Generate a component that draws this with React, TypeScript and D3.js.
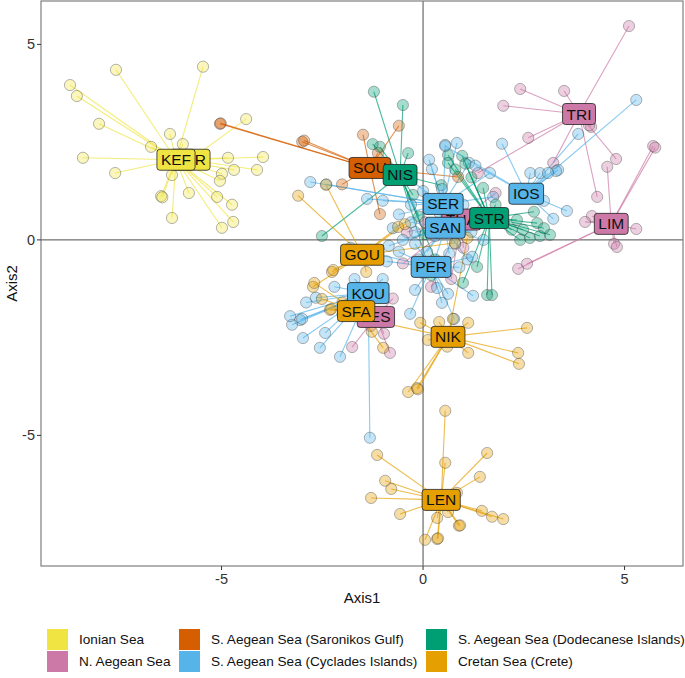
import React from "react";
import * as d3 from "d3";

// legend / region info
const regions = [
  "Ionian Sea",
  "N. Aegean Sea",
  "S. Aegean Sea (Saronikos Gulf)",
  "S. Aegean Sea (Cyclades Islands)",
  "S. Aegean Sea (Dodecanese Islands)",
  "Cretan Sea (Crete)",
];
const regionColors = ["#F0E442", "#CC79A7", "#D55E00", "#56B4E9", "#009E73", "#E69F00"];

// population centroids (label positions), in drawing order
const popNames = ["KER", "KEF", "SOU", "NIS", "TRI", "LIM", "THA", "SER", "SAN", "STR", "IOS", "GOU", "PER", "LES", "KOU", "SFA", "NIK", "LEN"];
const popRegion = [0, 0, 2, 4, 1, 1, 1, 3, 3, 4, 3, 5, 3, 1, 3, 5, 5, 5];
const popAxis1 = [-5.78, -6.13, -1.32, -0.57, 3.87, 4.67, 0.95, 0.5, 0.55, 1.64, 2.56, -1.51, 0.2, -1.17, -1.36, -1.66, 0.62, 0.45];
const popAxis2 = [2.05, 2.05, 1.84, 1.66, 3.22, 0.41, 0.52, 0.92, 0.31, 0.56, 1.18, -0.38, -0.69, -1.97, -1.36, -1.82, -2.48, -6.65];

// individual scores [Axis1, Axis2]
const KER = [[-4.39, 3.09], [-3.97, 2.12], [-4.12, 1.79]];
const KEF = [
  [-8.76, 3.96], [-8.59, 3.68], [-7.62, 4.35], [-5.46, 4.43], [-8.04, 2.97], [-6.28, 2.71],
  [-5.96, 2.45], [-6.75, 2.38], [-8.44, 2.1], [-7.64, 1.71], [-6.23, 1.66], [-4.84, 2.1],
  [-4.69, 1.79], [-4.99, 1.69], [-5.04, 1.51], [-5.81, 1.2], [-6.5, 1.12], [-6.47, 1.09],
  [-5.11, 1.1], [-4.74, 0.9], [-6.23, 0.56], [-4.99, 0.31], [-4.71, 0.46],
];
const SOU = [
  [-5.04, 2.97], [-5.02, 2.98], [-3.0, 2.51], [-2.95, 2.54], [-1.49, 2.69], [-0.6, 2.92],
  [-1.07, 0.66], [-2.01, 1.42], [0.87, 1.61], [-1.12, 2.22], [-1.0, 1.9],
];
const NIS = [
  [-1.22, 3.79], [-0.5, 3.45], [-1.07, 2.38], [-0.37, 2.22], [-2.51, 0.1], [-0.25, 1.15],
  [0.05, 0.15], [0.3, -0.5], [-0.1, 0.6], [0.45, 1.4], [-1.25, 2.45], [0.2, -0.9],
];
const TRI = [
  [5.11, 5.47], [3.5, 3.81], [4.17, 2.89], [4.12, 2.93], [4.79, 2.07], [4.32, 1.1],
  [2.41, 3.86], [1.99, 3.43], [2.61, 2.61], [3.23, 1.97], [1.36, 1.71],
];
const LIM = [
  [5.71, 2.4], [5.76, 2.36], [4.57, 1.87], [4.19, 0.61], [4.02, 0.46], [5.29, 0.28],
  [4.74, -0.1], [4.81, -0.18], [2.36, -0.74], [2.58, -0.61],
];
const THA = [
  [0.2, -1.2], [-0.5, -0.6], [1.0, -0.2], [0.7, -1.0], [1.8, 1.2], [0.05, 0.45], [-0.4, 0.2],
];
const SER = [
  [-2.8, 1.48], [-2.4, 1.42], [-1.39, 1.05], [0.22, 1.81], [0.47, 1.3], [1.14, 1.97],
  [1.66, 1.71], [1.74, 1.1], [-0.3, 0.9], [-0.6, 0.65], [0.0, 1.25], [1.0, 0.9], [-1.0, 1.0],
  [0.55, 2.43], [0.84, 2.48], [-0.35, 1.55], [-0.75, 0.3], [0.15, 2.05],
];
const SAN = [
  [0.3, 0.1], [-0.2, 0.2], [1.2, 0.2], [0.1, -0.3], [0.8, -0.1], [1.5, 0.0], [-0.5, 0.0],
  [0.4, 0.7], [-0.1, -0.5], [-0.3, 0.45], [0.65, -0.35], [1.1, -0.5], [-0.85, -0.15],
  [0.25, -0.65],
];
const STR = [
  [0.62, 2.17], [0.97, 2.15], [0.62, 1.97], [0.8, 1.8], [1.49, 1.33], [2.75, 0.72],
  [2.83, 0.43], [2.48, 0.26], [3.15, 0.13], [2.41, 0.0], [2.65, 0.05], [2.2, 0.26],
  [1.34, -0.69], [0.99, -1.1], [1.59, -1.41], [1.71, -1.41], [2.33, 0.51], [2.0, 0.45],
  [1.2, 1.6], [1.8, 0.9], [3.0, 0.3], [2.9, 0.1], [1.05, 1.95],
];
const IOS = [
  [5.29, 3.58], [3.85, 2.71], [3.57, 0.74], [3.23, 0.54], [3.35, 1.79], [3.3, 1.76],
  [2.66, 1.71], [2.9, 1.71], [3.1, 1.71], [1.96, 2.46], [0.55, 2.4], [1.3, 1.9], [3.0, 1.0],
];
const GOU = [
  [-3.1, 1.13], [-2.41, 1.41], [-2.26, -0.82], [-2.23, -0.77], [-1.41, -0.82], [-2.73, -1.2],
  [-0.62, 0.33], [-0.45, 0.4], [0.79, -0.08], [-1.9, -0.5],
];
const PER = [
  [-0.2, -1.28], [0.47, -1.61], [0.62, -1.38], [1.24, -1.43], [-0.32, -1.89], [1.22, -0.43],
  [0.35, -1.23], [0.77, -2.02], [-0.6, -0.3], [-0.2, -0.1], [0.9, -0.7], [-1.8, -0.2],
  [-0.9, -0.55], [0.0, -0.85],
];
const LES = [[-0.97, -2.4], [-1.76, -2.74], [-0.82, -2.89], [-0.75, -1.5], [-1.3, -2.2]];
const KOU = [
  [-3.05, -2.05], [-3.0, -2.02], [-3.25, -2.17], [-2.98, -2.51], [-2.56, -2.76], [-2.43, -2.38],
  [-2.06, -2.99], [-2.66, -1.48], [-1.32, -5.06], [-2.2, -1.2], [-1.0, -1.0], [-3.3, -1.95],
  [-2.9, -1.6], [-1.7, -1.0],
];
const SFA = [
  [-2.51, -1.51], [-2.31, -1.79], [-2.28, -1.77], [-1.27, -2.35], [-0.99, -2.76], [-2.0, -1.6],
  [-1.5, -1.3], [-2.7, -1.1],
];
const NIK = [
  [2.58, -2.25], [2.36, -2.89], [2.38, -3.17], [1.12, -2.89], [1.12, -2.12], [0.4, -2.1],
  [0.12, -2.56], [0.6, -2.73], [-0.37, -3.89], [-0.15, -3.79], [-0.13, -3.82], [-0.07, -2.12],
  [1.1, 0.05], [-2.0, -1.9], [0.74, -2.02],
];
const LEN = [
  [0.55, -4.37], [0.55, -5.7], [1.59, -5.45], [1.41, -6.06], [-1.14, -5.5], [-0.94, -6.16],
  [-0.79, -6.37], [-1.29, -6.6], [-0.57, -7.01], [1.46, -6.93], [1.71, -7.08], [1.99, -7.14],
  [0.35, -7.11], [0.89, -7.31], [0.92, -7.3], [0.05, -7.67], [0.35, -7.65], [0.37, -7.63],
  [0.62, -6.96], [0.84, -6.47],
];
const popPoints = [KER, KEF, SOU, NIS, TRI, LIM, THA, SER, SAN, STR, IOS, GOU, PER, LES, KOU, SFA, NIK, LEN];

const xTicks = [-5, 0, 5];
const yTicks = [-5, 0, 5];

const W = 685;
const H = 678;
const panel = { left: 41, right: 683, top: 1, bottom: 566 };
const FONT = "'Liberation Sans', Arial, sans-serif";

const ctx = typeof document !== "undefined" ? document.createElement("canvas").getContext("2d") : null;
function textWidth(s: string, size: number) {
  if (!ctx) return s.length * size * 0.62;
  ctx.font = `${size}px ${FONT}`;
  return ctx.measureText(s).width;
}

export default function App() {
  const x = d3.scaleLinear().domain([-9.48, 6.45]).range([panel.left, panel.right]);
  const y = d3.scaleLinear().domain([-8.34, 6.11]).range([panel.bottom, panel.top]);

  const labelSize = 15.5;
  const legendCols = [47, 179, 426];
  const legendRows = [629, 651];

  return (
    <svg width={W} height={H} style={{ position: "absolute", left: 0, top: 0, fontFamily: FONT }}>
      <rect x={0} y={0} width={W} height={H} fill="white" />
      {/* zero lines */}
      <line x1={x(0)} x2={x(0)} y1={panel.top} y2={panel.bottom} stroke="#4d4d4d" strokeWidth={1} />
      <line x1={panel.left} x2={panel.right} y1={y(0)} y2={y(0)} stroke="#4d4d4d" strokeWidth={1} />

      {/* spider segments */}
      <g strokeWidth={1.1} strokeOpacity={0.7}>
        {popPoints.map((pts, i) =>
          pts.map((p, j) => (
            <line
              key={`${i}-${j}`}
              x1={x(popAxis1[i])}
              y1={y(popAxis2[i])}
              x2={x(p[0])}
              y2={y(p[1])}
              stroke={regionColors[popRegion[i]]}
            />
          ))
        )}
      </g>

      {/* individual points */}
      <g>
        {popPoints.map((pts, i) =>
          pts.map((p, j) => (
            <circle
              key={`${i}-${j}`}
              cx={x(p[0])}
              cy={y(p[1])}
              r={5.6}
              fill={regionColors[popRegion[i]]}
              fillOpacity={0.35}
              stroke="#333"
              strokeOpacity={0.4}
              strokeWidth={0.9}
            />
          ))
        )}
      </g>

      {/* population labels */}
      <g>
        {popNames.map((name, i) => {
          const w = textWidth(name, labelSize) + 8;
          const h = 21;
          const cx = x(popAxis1[i]);
          const cy = y(popAxis2[i]);
          return (
            <g key={name}>
              <rect
                x={cx - w / 2}
                y={cy - h / 2}
                width={w}
                height={h}
                rx={3}
                fill={regionColors[popRegion[i]]}
                stroke="#222"
                strokeWidth={0.8}
              />
              <text x={cx} y={cy + 5.5} textAnchor="middle" fontSize={labelSize} fill="#111">
                {name}
              </text>
            </g>
          );
        })}
      </g>

      {/* panel border */}
      <rect
        x={panel.left}
        y={panel.top}
        width={panel.right - panel.left}
        height={panel.bottom - panel.top}
        fill="none"
        stroke="#7f7f7f"
        strokeWidth={1.2}
      />

      {/* x axis */}
      {xTicks.map((t) => (
        <g key={`xt${t}`}>
          <line x1={x(t)} x2={x(t)} y1={panel.bottom} y2={panel.bottom + 4} stroke="#333" />
          <text x={x(t)} y={panel.bottom + 18} textAnchor="middle" fontSize={14.5} fill="#333">
            {t}
          </text>
        </g>
      ))}
      {yTicks.map((t) => (
        <g key={`yt${t}`}>
          <line x1={panel.left - 4} x2={panel.left} y1={y(t)} y2={y(t)} stroke="#333" />
          <text x={panel.left - 6} y={y(t) + 5} textAnchor="end" fontSize={14.5} fill="#333">
            {t}
          </text>
        </g>
      ))}
      <text x={(panel.left + panel.right) / 2} y={603} textAnchor="middle" fontSize={15} fill="#111">
        Axis1
      </text>
      <text
        transform={`translate(17, ${(panel.top + panel.bottom) / 2}) rotate(-90)`}
        textAnchor="middle"
        fontSize={15}
        fill="#111"
      >
        Axis2
      </text>

      {/* legend, two rows, filled column-wise */}
      {regions.map((r, i) => {
        const col = Math.floor(i / 2);
        const row = i % 2;
        const lx = legendCols[col];
        const ly = legendRows[row];
        return (
          <g key={r}>
            <rect x={lx} y={ly} width={21} height={21} fill={regionColors[i]} />
            <text x={lx + 32} y={ly + 15} fontSize={13.6} fill="#111">
              {r}
            </text>
          </g>
        );
      })}
    </svg>
  );
}
